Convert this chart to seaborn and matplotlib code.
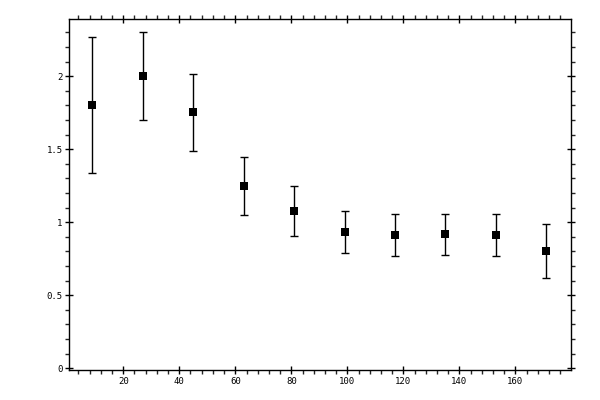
import numpy as np
import pandas as pd
import matplotlib
matplotlib.use("Agg")
import matplotlib.pyplot as plt
import seaborn as sns
from matplotlib.ticker import MultipleLocator

# Values
x_vals = [9, 27, 45, 63, 81, 99, 117, 135, 153, 171]
y_vals = [1.80, 2.00, 1.753, 1.247, 1.075, 0.932, 0.911, 0.918, 0.911, 0.801]
y_errs = [0.465, 0.30, 0.265, 0.20, 0.17, 0.144, 0.144, 0.14, 0.144, 0.185]

df = pd.DataFrame({"x": x_vals, "y": y_vals, "err": y_errs})

sns.set_style("ticks")
plt.rcParams["font.family"] = ["DejaVu Sans Mono", "DejaVu Sans"]

fig = plt.figure(figsize=(6, 4), dpi=100)
ax = fig.add_axes([0.1158, 0.075, 0.951 - 0.1158, 0.952 - 0.075])

ax.errorbar(df["x"], df["y"], yerr=df["err"], fmt="none", ecolor="black",
            elinewidth=1.0, capsize=3, capthick=1.0, zorder=2)
sns.scatterplot(data=df, x="x", y="y", marker="s", s=40, color="black",
                edgecolor="black", linewidth=0, ax=ax, zorder=3)

ax.set_xlim(0.8, 179.7)
ax.set_ylim(-0.012, 2.39)
ax.xaxis.set_major_locator(MultipleLocator(20))
ax.xaxis.set_minor_locator(MultipleLocator(4))
ax.yaxis.set_major_locator(MultipleLocator(0.5))
ax.yaxis.set_minor_locator(MultipleLocator(0.1))
ax.yaxis.set_major_formatter(plt.FuncFormatter(lambda v, p: f"{v:g}"))
ax.xaxis.set_major_formatter(plt.FuncFormatter(lambda v, p: f"{v:g}" if v > 0 else ""))

for s in ax.spines.values():
    s.set_visible(True)
    s.set_linewidth(1.0)
    s.set_color("black")

ax.tick_params(which="major", direction="inout", length=6, width=1.0,
               top=True, right=True, labelsize=6.5, colors="black", pad=2)
ax.tick_params(which="minor", direction="out", length=3, width=1.0,
               top=True, right=True)
ax.set_xlabel("")
ax.set_ylabel("")

fig.savefig("out.png", dpi=100)
